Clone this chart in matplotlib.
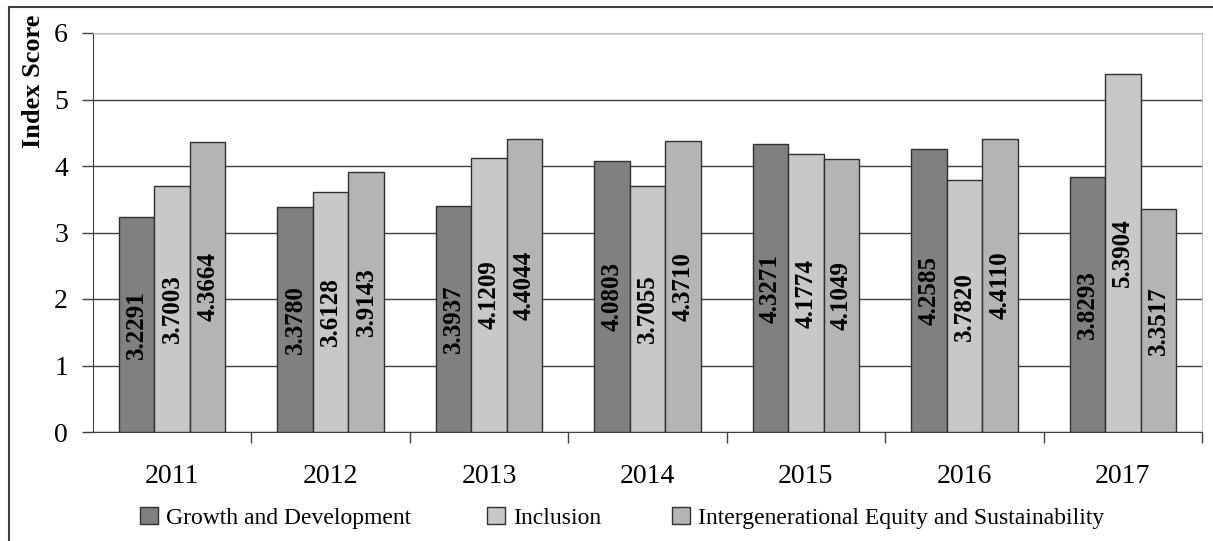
import matplotlib.pyplot as plt
from matplotlib.lines import Line2D
import numpy as np

years = ['2011', '2012', '2013', '2014', '2015', '2016', '2017']
growth = [3.2291, 3.3780, 3.3937, 4.0803, 4.3271, 4.2585, 3.8293]
inclusion = [3.7003, 3.6128, 4.1209, 3.7055, 4.1774, 3.7820, 5.3904]
intergen = [4.3664, 3.9143, 4.4044, 4.3710, 4.1049, 4.4110, 3.3517]
series_names = ['Growth and Development', 'Inclusion',
                'Intergenerational Equity and Sustainability']

plt.rcParams['font.family'] = ['Liberation Serif', 'DejaVu Serif']

fig = plt.figure(figsize=(12.13, 5.41), dpi=100)
ax = fig.add_axes([93 / 1213, 1 - 432 / 541, 1109 / 1213, 399 / 541])

x = np.arange(len(years))
w = 0.224
colors = ['#808080', '#c8c8c8', '#b4b4b4']
bars = []
for i, (vals, c) in enumerate(zip([growth, inclusion, intergen], colors)):
    b = ax.bar(x + (i - 1) * w, vals, w, color=c, edgecolor='#303030',
               linewidth=1.0, zorder=3)
    bars.append(b)
    for xi, v in zip(x + (i - 1) * w, vals):
        ax.text(xi, v / 2, '%.4f' % v, rotation=90, ha='center', va='center',
                fontsize=18, fontweight='bold', zorder=4)

ax.set_xlim(-0.5, 6.5)
ax.set_ylim(0, 6)
ax.set_yticks(range(0, 7))
ax.yaxis.grid(True, color='#404040', linewidth=1.0, zorder=0)
ax.set_axisbelow(True)
ax.tick_params(axis='y', labelsize=20, length=8, width=1, color='#404040', pad=10)

ax.set_xticks(x)
ax.set_xticklabels(years)
ax.tick_params(axis='x', which='major', length=0, labelsize=20, pad=23)
ax.set_xticks(np.arange(0.5, 7, 1.0), minor=True)
ax.tick_params(axis='x', which='minor', length=8, width=1, color='#404040')

ax.spines['left'].set_color('#404040')
ax.spines['bottom'].set_color('#404040')
ax.spines['top'].set_color('#c0c0c0')
ax.spines['right'].set_color('#c0c0c0')

ax.set_ylabel('Index Score', fontsize=19, fontweight='bold')
ax.yaxis.set_label_coords(-0.043, 0.88)

# legend entries placed individually
leg_x = [140 / 1213, 487 / 1213, 672 / 1213]
for b, name, lx in zip(bars, series_names, leg_x):
    fig.legend([b], [name], loc='center left',
               bbox_to_anchor=(lx, 1 - 518 / 541), frameon=False,
               fontsize=17, handlelength=0.75, handleheight=0.75,
               handletextpad=0.35, borderpad=0, borderaxespad=0)

# outer border of the chart area
fig.add_artist(Line2D([9 / 1213, 9 / 1213], [0, 1 - 7 / 541],
                      transform=fig.transFigure, color='#404040', linewidth=1.5))
fig.add_artist(Line2D([9 / 1213, 1], [1 - 7 / 541, 1 - 7 / 541],
                      transform=fig.transFigure, color='#404040', linewidth=1.5))

fig.savefig('out.png', dpi=100)
